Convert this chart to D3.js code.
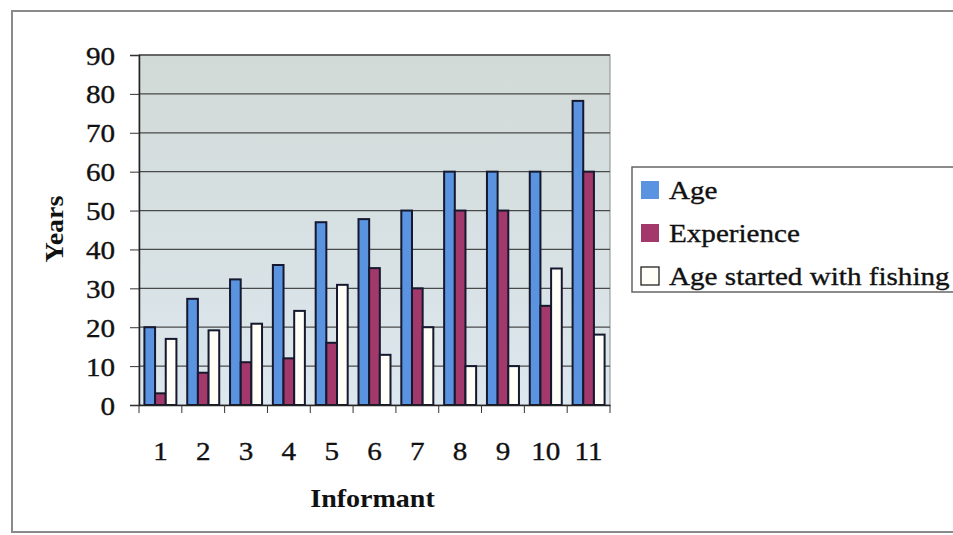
<!DOCTYPE html>
<html><head><meta charset="utf-8">
<script src="https://cdn.jsdelivr.net/npm/d3@7"></script>
<style>html,body{margin:0;padding:0;background:#fff;}svg{display:block;}</style>
</head><body>
<svg id="c" width="953" height="535"></svg>
<script>
const categories = ["1","2","3","4","5","6","7","8","9","10","11"];
const seriesNames = ["Age","Experience","Age started with fishing"];
const ageValues = [20, 27.3, 32.3, 36, 47, 47.8, 50, 60, 60, 60, 78.2];
const experienceValues = [3, 8.3, 11, 12, 16, 35.2, 30, 50, 50, 25.5, 60];
const startValues = [17, 19.2, 20.9, 24.2, 30.9, 12.9, 20, 10, 10, 35.1, 18.1];
const yTicks = [0,10,20,30,40,50,60,70,80,90];
const colors = ["#5a93e0", "#a3396a", "#fffff8"];

const svg = d3.select("#c");
const STRETCH = 1.12;
const FONT = "'Liberation Serif','Times New Roman',serif";

// outer frame
svg.append("rect").attr("x",12).attr("y",11).attr("width",960).attr("height",521)
  .attr("fill","#fff").attr("stroke","#8a8a8a").attr("stroke-width",2);

const plot = {left:139, right:610, top:55, bottom:405};
const x0 = d3.scaleBand().domain(categories).range([plot.left, plot.right]).paddingInner(0).paddingOuter(0);
const groupW = 32;
const x1 = d3.scaleBand().domain(seriesNames).range([0, groupW]);
const y = d3.scaleLinear().domain([0,90]).range([plot.bottom, plot.top]);

const defs = svg.append("defs");
const grad = defs.append("linearGradient").attr("id","bg").attr("x1",0).attr("y1",0).attr("x2",0).attr("y2",1);
grad.append("stop").attr("offset","0%").attr("stop-color","#d2dad7");
grad.append("stop").attr("offset","100%").attr("stop-color","#dce7ee");

svg.append("rect").attr("x",plot.left).attr("y",plot.top)
  .attr("width",plot.right-plot.left).attr("height",plot.bottom-plot.top)
  .attr("fill","url(#bg)").attr("stroke","#8c8c8c").attr("stroke-width",1);

// gridlines
svg.append("g").selectAll("line").data(yTicks.filter(d=>d>0)).join("line")
  .attr("x1",plot.left).attr("x2",plot.right)
  .attr("y1",d=>y(d)).attr("y2",d=>y(d))
  .attr("stroke","#4a4a4a").attr("stroke-width",1.3);

// bars
const data = categories.map((c,i)=>({cat:c, vals:[ageValues[i], experienceValues[i], startValues[i]]}));
const groups = svg.append("g").selectAll("g").data(data).join("g")
  .attr("transform", d=>`translate(${x0(d.cat) + (x0.bandwidth()-groupW)/2},0)`);
groups.selectAll("rect").data(d=>d.vals.map((v,j)=>({name:seriesNames[j], v, j}))).join("rect")
  .attr("x", d=>x1(d.name)).attr("width", x1.bandwidth())
  .attr("y", d=>y(d.v)).attr("height", d=>y(0)-y(d.v))
  .attr("fill", d=>colors[d.j]).attr("stroke","#15182e").attr("stroke-width",2);

function stretch(sel){
  sel.each(function(){
    const L = this.getComputedTextLength();
    d3.select(this).attr("textLength", L*STRETCH).attr("lengthAdjust","spacingAndGlyphs");
  });
}
function ink(sel){ sel.attr("stroke","#111").attr("stroke-width",0.35); }

// y axis
const yAxis = svg.append("g").attr("transform",`translate(${plot.left},0)`)
  .call(d3.axisLeft(y).tickValues(yTicks).tickSize(9).tickPadding(15).tickFormat(d3.format("d")));
yAxis.select(".domain").attr("stroke","#222").attr("stroke-width",1.5);
yAxis.selectAll(".tick line").attr("stroke","#333");
yAxis.selectAll("text").attr("font-family",FONT).attr("font-size",26).attr("fill","#111").attr("dy","0.35em").call(ink).call(stretch);

// x axis
const xAxis = svg.append("g").attr("transform",`translate(0,${plot.bottom})`)
  .call(d3.axisBottom(x0).tickSize(0).tickPadding(0));
xAxis.select(".domain").attr("stroke","#222").attr("stroke-width",1.5);
xAxis.selectAll(".tick text").attr("font-family",FONT).attr("font-size",26).attr("fill","#111")
  .attr("y",55).attr("dy",0).call(ink).call(stretch);
// boundary ticks
svg.append("g").selectAll("line").data(categories.concat(["end"])).join("line")
  .attr("x1",(d,i)=> i<categories.length ? x0(d) : plot.right)
  .attr("x2",(d,i)=> i<categories.length ? x0(d) : plot.right)
  .attr("y1",plot.bottom).attr("y2",plot.bottom+8)
  .attr("stroke","#333").attr("stroke-width",1);

// axis titles
svg.append("text").attr("x",(plot.left+plot.right)/2 - 2).attr("y",507)
  .attr("text-anchor","middle").attr("font-family",FONT).attr("font-weight","bold")
  .attr("font-size",25).attr("fill","#111").text("Informant").call(stretch);
svg.append("text").attr("transform","translate(63,229) rotate(-90)")
  .attr("text-anchor","middle").attr("font-family",FONT).attr("font-weight","bold")
  .attr("font-size",25).attr("fill","#111").text("Years").call(stretch);

// legend
const lg = svg.append("g");
lg.append("rect").attr("x",632).attr("y",167).attr("width",340).attr("height",125)
  .attr("fill","#fff").attr("stroke","#666").attr("stroke-width",1.5);
const items = lg.selectAll("g").data(seriesNames).join("g")
  .attr("transform",(d,i)=>`translate(641,${190 + i*43})`);
items.append("rect").attr("x",0).attr("y",-9).attr("width",18).attr("height",18)
  .attr("fill",(d,i)=>colors[i]).attr("stroke",(d,i)=> i===2 ? "#222" : "none").attr("stroke-width",1.3);
items.append("text").attr("x",28).attr("y",0).attr("dy","0.35em")
  .attr("font-family",FONT).attr("font-size",26).attr("fill","#111").text(d=>d).call(ink).call(stretch);
</script>
</body></html>
